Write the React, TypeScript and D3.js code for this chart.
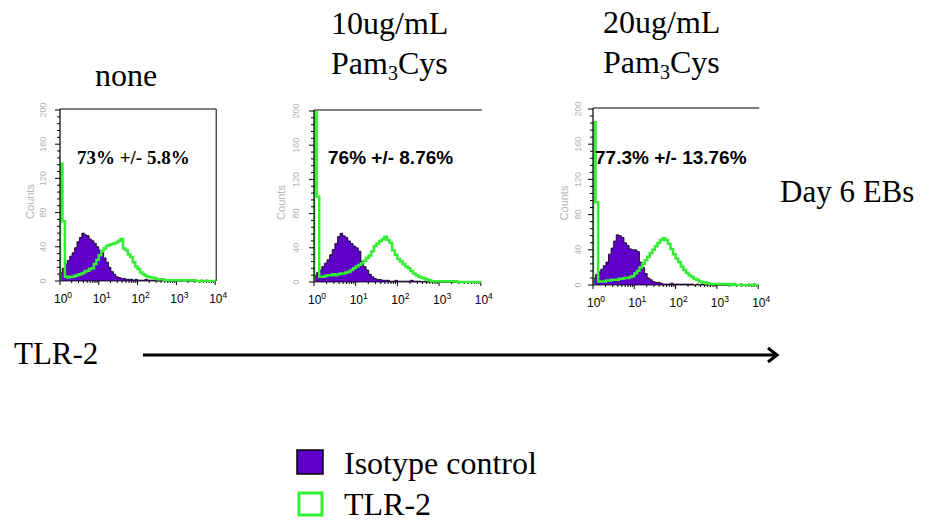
import React from "react";
import * as d3 from "d3";

// ---- data (counts per 1/16-decade channel bin, 10^0 .. 10^4) ----
const BINS_PER_DECADE = 16;
const titles = [["none"], ["10ug/mL", "Pam|3|Cys"], ["20ug/mL", "Pam|3|Cys"]];
const percentLabels = ["73% +/- 5.8%", "76% +/- 8.76%", "77.3% +/- 13.76%"];
const yTicks = [0, 40, 80, 120, 160, 200];
const xDecades = [0, 1, 2, 3, 4];

const isotype1 = [10,15,20,24,29,33,39,46,51,56,54,53,49,47,44,40,36,33,27,22,16,11,8,5,4,3,3,2,2,2,
  1,2,1,1,1,2,1,1,1,1,0,1,1,1,0,1,1,0,1,0,0,1,0,0,0,0,0,0,1,0,1,0,0,0];
const tlr1 = [137,70,5,4,5,5,6,7,8,9,11,12,14,15,20,25,30,35,38,41,42,43,44,45,47,49,38,36,31,28,
  22,17,14,10,8,6,5,4,4,3,2,2,2,1,1,1,1,1,1,1,1,1,1,1,1,1,0,0,0,0,0,0,0,0];
const isotype2 = [8,11,14,18,22,26,32,38,45,53,57,54,52,48,45,42,40,36,24,18,14,9,6,4,3,3,2,2,2,
  1,1,2,1,1,1,1,1,2,1,1,1,0,1,0,1,0,0,1,0,0,0,0,0,0,0,0,0,0,0,0,0,0,0,0];
const tlr2 = [200,100,6,6,7,8,8,9,8,9,10,10,11,12,14,16,18,20,22,25,28,31,36,42,45,48,50,53,49,46,
  37,32,27,24,21,18,16,13,10,8,6,5,4,3,2,1,1,1,1,1,1,1,1,1,1,0,0,0,0,0,0,0,0,0];
const isotype3 = [8,12,15,18,22,26,35,42,50,57,56,54,48,45,41,40,40,38,26,20,13,8,6,4,3,3,2,
  1,1,1,2,1,1,1,1,1,1,1,1,0,1,0,1,0,0,0,1,0,0,0,0,0,0,0,0,0,0,1,0,0,1,0,1,0];
const tlr3 = [185,94,4,4,4,5,5,6,6,6,7,7,8,8,9,10,13,16,20,24,28,32,36,40,44,48,51,53,51,47,
  41,35,30,26,21,17,14,11,9,7,6,4,3,3,2,1,1,1,1,1,1,1,1,0,1,0,0,0,0,0,0,0,0,0];

const isotypeSeries = [isotype1, isotype2, isotype3];
const tlrSeries = [tlr1, tlr2, tlr3];

// ---- layout ----
const layout = [
  { x0: 60, dec: 38.8, yTop: 110, yBase: 281, labelX: 43, countsX: 30, right: true, pctX: 77, pctFont: "'Liberation Serif', serif", titleX: 95, titleY: [86] },
  { x0: 314, dec: 41.7, yTop: 111, yBase: 282, labelX: 296, countsX: 281, right: false, pctX: 328, pctFont: "'Liberation Sans', Arial, sans-serif", titleX: 331, titleY: [34, 74] },
  { x0: 593, dec: 41.3, yTop: 109, yBase: 285, labelX: 578, countsX: 564, right: false, pctX: 595, pctFont: "'Liberation Sans', Arial, sans-serif", titleX: 603, titleY: [33, 73] },
];

const PURPLE = "#5f00c8";
const GREEN = "#33ee33";
const SERIF = "'Liberation Serif', 'Times New Roman', serif";
const SANS = "'Liberation Sans', Arial, sans-serif";

function Title({ line, x, y }: { line: string; x: number; y: number }) {
  const parts = line.split("|");
  if (parts.length === 1) {
    return <text x={x} y={y} fontFamily={SERIF} fontSize={32}>{line}</text>;
  }
  return (
    <text x={x} y={y} fontFamily={SERIF} fontSize={32}>
      <tspan>{parts[0]}</tspan>
      <tspan fontSize={20} dy={6}>{parts[1]}</tspan>
      <tspan dy={-6}>{parts[2]}</tspan>
    </text>
  );
}

function Panel({ i }: { i: number }) {
  const L = layout[i];
  const x = d3.scaleLog().domain([1, 1e4]).range([L.x0, L.x0 + 4 * L.dec]);
  const y = d3.scaleLinear().domain([0, 200]).range([L.yBase, L.yTop]);
  const edge = (k: number) => Math.pow(10, k / BINS_PER_DECADE);
  const toPts = (arr: number[]) => {
    const pts: [number, number][] = arr.map((v, k) => [edge(k), v]);
    pts.push([edge(arr.length), arr[arr.length - 1]]);
    return pts;
  };
  const iso = toPts(isotypeSeries[i]);
  const tlr = toPts(tlrSeries[i]);
  const area = d3.area<[number, number]>()
    .x((d) => x(d[0])).y0(y(0)).y1((d) => y(d[1])).curve(d3.curveStepAfter);
  const line = d3.line<[number, number]>()
    .x((d) => x(d[0])).y((d) => y(d[1])).curve(d3.curveStepAfter);
  const xr = x(1e4);
  const minor = d3.range(0, 201, 8);
  const xMinor: number[] = [];
  for (let d = 0; d < 4; d++) for (let m = 1; m < 10; m++) xMinor.push(m * Math.pow(10, d));
  xMinor.push(1e4);
  const clipId = `clip${i}`;
  return (
    <g>
      <defs>
        <clipPath id={clipId}>
          <rect x={L.x0} y={L.yTop} width={xr - L.x0 + 1} height={L.yBase - L.yTop + 2} />
        </clipPath>
      </defs>
      {/* y ticks */}
      {minor.map((v) => (
        <line key={v} x1={L.x0 - (v % 40 === 0 ? 5 : 3)} x2={L.x0} y1={y(v)} y2={y(v)} stroke="#000" strokeWidth={1} />
      ))}
      {yTicks.map((v) => (
        <text key={v} transform={`translate(${L.labelX},${y(v)}) rotate(-90)`} textAnchor="middle"
          dominantBaseline="central" fontFamily={SANS} fontSize={9} fill="#b4b4b4">{v}</text>
      ))}
      <text transform={`translate(${L.countsX},${(L.yTop + L.yBase) / 2 + 6}) rotate(-90)`} textAnchor="middle"
        dominantBaseline="central" fontFamily={SANS} fontSize={11} fill="#b4b4b4">Counts</text>
      {/* x ticks */}
      {xMinor.map((v, k) => (
        <line key={k} x1={x(v)} x2={x(v)} y1={L.yBase} y2={L.yBase + (Number.isInteger(Math.log10(v)) ? 4 : 2)} stroke="#000" strokeWidth={1} />
      ))}
      {xDecades.map((d) => (
        <text key={d} x={x(Math.pow(10, d)) + 3} y={L.yBase + 22} textAnchor="middle" fontFamily={SANS} fontSize={12}>
          <tspan>10</tspan>
          <tspan fontSize={8.5} dy={-5}>{d}</tspan>
        </text>
      ))}
      {/* histograms */}
      <g clipPath={`url(#${clipId})`}>
        <path d={area(iso) || ""} fill={PURPLE} stroke="#000" strokeWidth={0.8} />
        <path d={line([[1, 0], ...tlr]) || ""} fill="none" stroke={GREEN} strokeWidth={2.5} />
      </g>
      {/* frame */}
      <line x1={L.x0} x2={L.x0} y1={L.yTop - 1} y2={L.yBase} stroke="#000" strokeWidth={1.2} />
      <line x1={L.x0} x2={xr + 1} y1={L.yTop - 1} y2={L.yTop - 1} stroke="#000" strokeWidth={1.2} />
      {L.right && <line x1={xr + 1} x2={xr + 1} y1={L.yTop - 1} y2={L.yBase} stroke="#000" strokeWidth={1} />}
      <text x={L.pctX} y={164} fontFamily={L.pctFont} fontWeight="bold" fontSize={19}>{percentLabels[i]}</text>
      {titles[i].map((t, k) => (
        <Title key={k} line={t} x={L.titleX} y={L.titleY[k]} />
      ))}
    </g>
  );
}

export default function App() {
  return (
    <svg width={932} height={527} style={{ display: "block", position: "absolute", left: 0, top: 0, background: "#fff" }}>
      {[0, 1, 2].map((i) => <Panel key={i} i={i} />)}
      <text x={780} y={202} fontFamily={SERIF} fontSize={31}>Day 6 EBs</text>
      <text x={14} y={364} fontFamily={SERIF} fontSize={31}>TLR-2</text>
      <line x1={143} x2={776} y1={355} y2={355} stroke="#000" strokeWidth={3} />
      <polyline points="768,348 777,355 768,362" fill="none" stroke="#000" strokeWidth={3} />
      <rect x={297} y={450} width={26} height={24} fill={PURPLE} stroke="#000" strokeWidth={1.5} />
      <text x={344} y={474} fontFamily={SERIF} fontSize={32}>Isotype control</text>
      <rect x={299} y={493} width={23} height={22} fill="#fff" stroke={GREEN} strokeWidth={3} />
      <text x={344} y={515} fontFamily={SERIF} fontSize={32}>TLR-2</text>
    </svg>
  );
}
